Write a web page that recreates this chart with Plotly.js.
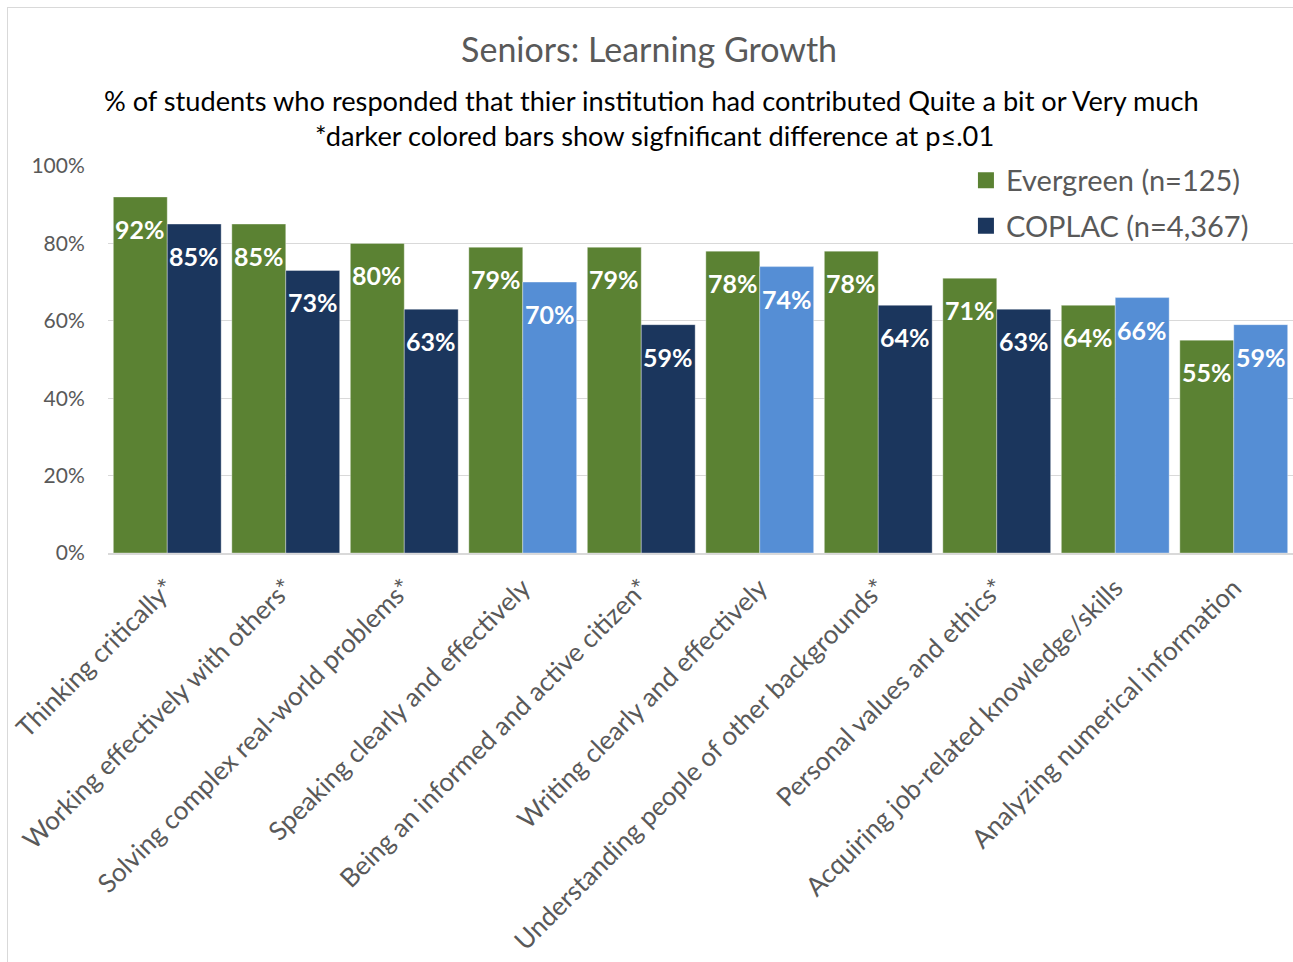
<!DOCTYPE html>
<html>
<head>
<meta charset="utf-8">
<script src="https://cdn.plot.ly/plotly-3.0.1.min.js"></script>
<style>
  html, body { margin: 0; padding: 0; overflow: hidden; background: #fff; }
  #chart { width: 1293px; height: 962px; }
  #frame { position: absolute; left: 7px; top: 7px; width: 1400px; height: 1100px;
           border: 1.5px solid #d9d9d9; pointer-events: none; }
</style>
</head>
<body>
<div id="chart"></div>
<div id="frame"></div>
<script>
const categories = [
  "Thinking critically*",
  "Working effectively with others*",
  "Solving complex real-world problems*",
  "Speaking clearly and effectively",
  "Being an informed and active citizen*",
  "Writing clearly and effectively",
  "Understanding people of other backgrounds*",
  "Personal values and ethics*",
  "Acquiring job-related knowledge/skills",
  "Analyzing numerical information"
];
const evergreen = [92, 85, 80, 79, 79, 78, 78, 71, 64, 55];
const coplac    = [85, 73, 63, 70, 59, 74, 64, 63, 66, 59];
const significant = [true, true, true, false, true, false, true, true, false, false];
const yTicks = [0, 20, 40, 60, 80, 100];
const yTickLabels = ["0%", "20%", "40%", "60%", "80%", "100%"];
const seriesNames = ["Evergreen (n=125)", "COPLAC (n=4,367)"];

const GREEN = "#5b8233";
const NAVY = "#1b365d";
const LIGHTBLUE = "#558ed5";
const FONT = "Lato, 'Open Sans', sans-serif";

const coplacColors = significant.map(s => s ? NAVY : LIGHTBLUE);

const traces = [
  {
    type: "bar", name: seriesNames[0], x: categories, y: evergreen,
    marker: { color: GREEN, line: { color: "rgba(255,255,255,0.35)", width: 1 } },
    showlegend: false, hoverinfo: "none"
  },
  {
    type: "bar", name: seriesNames[1], x: categories, y: coplac,
    marker: { color: coplacColors, line: { color: "rgba(255,255,255,0.35)", width: 1 } },
    showlegend: false, hoverinfo: "none"
  },
  // legend swatches
  {
    type: "scatter", mode: "markers", name: seriesNames[0], x: [null], y: [null],
    marker: { symbol: "square", size: 16, color: GREEN }, legendgroup: "a", hoverinfo: "none"
  },
  {
    type: "scatter", mode: "markers", name: seriesNames[1], x: [null], y: [null],
    marker: { symbol: "square", size: 16, color: NAVY }, legendgroup: "b", hoverinfo: "none"
  }
];

const halfBar = 27;
const annotations = [];
categories.forEach((c, i) => {
  annotations.push({ x: c, y: evergreen[i], xref: "x", yref: "y", text: "<b>" + evergreen[i] + "%</b>",
    showarrow: false, xshift: -halfBar, yshift: -32, yanchor: "middle",
    font: { family: FONT, size: 25, color: "#ffffff" } });
  annotations.push({ x: c, y: coplac[i], xref: "x", yref: "y", text: "<b>" + coplac[i] + "%</b>",
    showarrow: false, xshift: halfBar, yshift: -32, yanchor: "middle",
    font: { family: FONT, size: 25, color: "#ffffff" } });
});
annotations.push({ xref: "paper", yref: "paper", x: 0.459, y: 1.1705, yanchor: "middle", xanchor: "center",
  showarrow: false, text: "% of students who responded that thier institution had contributed Quite a bit or Very much",
  font: { family: FONT, size: 27.2, color: "#000000" } });
annotations.push({ xref: "paper", yref: "paper", x: 0.461, y: 1.080, yanchor: "middle", xanchor: "center",
  showarrow: false, text: "*darker colored bars show sigfnificant difference at p\u2264.01",
  font: { family: FONT, size: 27.2, color: "#000000" } });

const layout = {
  width: 1293, height: 962,
  margin: { l: 108, r: 0, t: 166, b: 409, autoexpand: false },
  paper_bgcolor: "#ffffff", plot_bgcolor: "#ffffff",
  font: { family: FONT, color: "#595959" },
  title: { text: "Seniors: Learning Growth", x: 0.502, xref: "container", y: 0.948, yref: "container",
           yanchor: "middle", xanchor: "center", font: { family: FONT, size: 34, color: "#595959" } },
  barmode: "group", bargap: 0.09, bargroupgap: 0,
  xaxis: {
    type: "category", tickangle: -45, automargin: false,
    tickfont: { family: FONT, size: 26, color: "#595959" },
    showline: true, linecolor: "#d9d9d9", linewidth: 1.5,
    ticks: "outside", ticklen: 8, tickcolor: "rgba(0,0,0,0)", showgrid: false
  },
  yaxis: {
    range: [0, 100], tickvals: yTicks, ticktext: yTickLabels, automargin: false,
    tickfont: { family: FONT, size: 21, color: "#595959" },
    showgrid: true, gridcolor: "#d9d9d9", gridwidth: 1.2, zeroline: false,
    ticks: "outside", ticklen: 18, tickcolor: "rgba(0,0,0,0)", showline: false
  },
  legend: {
    x: 0.724, y: 1.029, xanchor: "left", yanchor: "top",
    font: { family: FONT, size: 29, color: "#595959" },
    bgcolor: "rgba(255,255,255,0)", traceorder: "grouped", tracegroupgap: 5,
    itemwidth: 30, itemsizing: "trace"
  },
  annotations: annotations,
  showlegend: true
};

Plotly.newPlot("chart", traces, layout, { displayModeBar: false, staticPlot: true });
</script>
</body>
</html>
